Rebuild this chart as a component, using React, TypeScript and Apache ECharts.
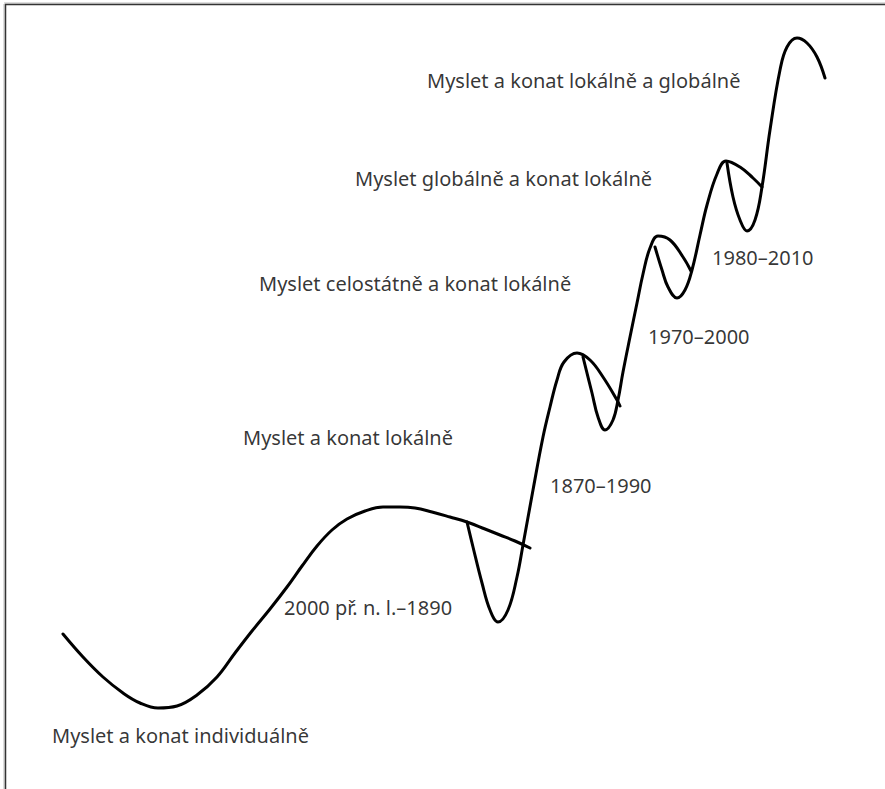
import React, { useEffect, useRef } from "react";
import * as echarts from "echarts";

// Curves: [x, level] pairs (level grows downwards on the page scale)
const curve1: number[][] = [
  [63, 634], [83, 657], [103, 677], [123, 693], [140, 703], [158, 708], [177, 706],
  [197, 695], [217, 677], [235, 653], [252, 631], [270, 609], [287, 587], [302, 566],
  [317, 546], [332, 530], [347, 519], [365, 511], [383, 507], [400, 507], [415, 508],
  [432, 512], [450, 517], [467, 522], [485, 529], [500, 535], [515, 541], [530, 548],
];
const curve2: number[][] = [
  [467, 522], [473, 547], [482, 583], [490, 610], [498, 622], [508, 610], [517, 577],
  [523, 545], [533, 490], [543, 437], [550, 407], [557, 380], [564, 362], [577, 353],
  [590, 360], [603, 377], [617, 400], [620, 406],
];
const curve3: number[][] = [
  [583, 357], [592, 393], [598, 417], [605, 430], [613, 420], [618, 400], [623, 372],
  [630, 337], [637, 303], [643, 274], [650, 248], [658, 236], [670, 240], [683, 257],
  [691, 271],
];
const curve4: number[][] = [
  [655, 247], [662, 270], [668, 287], [677, 298], [685, 290], [692, 270], [700, 235],
  [707, 205], [717, 174], [726, 161], [740, 167], [753, 178], [762, 187],
];
const curve5: number[][] = [
  [727, 163], [733, 197], [740, 220], [747, 231], [755, 220], [762, 187], [770, 130],
  [780, 70], [787, 47], [797, 38], [807, 43], [817, 57], [825, 78],
];

const labelTexts: string[] = [
  "Myslet a konat lokálně a globálně",
  "Myslet globálně a konat lokálně",
  "Myslet celostátně a konat lokálně",
  "Myslet a konat lokálně",
  "2000 př. n. l.–1890",
  "Myslet a konat individuálně",
  "1870–1990",
  "1970–2000",
  "1980–2010",
];
const labelPos: number[][] = [
  [427, 80], [355, 178], [259, 283], [243, 437], [284, 607], [52, 735],
  [550, 485], [648, 336], [712, 257],
];

export default function App() {
  const ref = useRef<HTMLDivElement>(null);
  useEffect(() => {
    if (!ref.current) return;
    const chart = echarts.init(ref.current, undefined, { renderer: "svg" });
    const curves = [curve1, curve2, curve3, curve4, curve5];
    const lineSeries = curves.map((c, i) => ({
      type: "line",
      name: "c" + i,
      data: c,
      smooth: 0.4,
      showSymbol: false,
      symbol: "none",
      lineStyle: { color: "#000", width: 3, cap: "round", join: "round" },
      z: 3,
    }));
    chart.setOption({
      animation: false,
      backgroundColor: "#fff",
      grid: { left: 0, right: 0, top: 0, bottom: 0 },
      xAxis: { type: "value", min: 0, max: 885, show: false },
      yAxis: { type: "value", min: 0, max: 789, inverse: true, show: false },
      series: [
        ...lineSeries,
        {
          type: "scatter",
          symbolSize: 0,
          data: labelTexts.map((t, i) => ({ name: t, value: labelPos[i] })),
          label: {
            show: true,
            position: "right",
            distance: 0,
            formatter: "{b}",
            color: "#000",
            fontFamily: "Noto Sans",
            fontSize: 20,
          },
          emphasis: { disabled: true },
          z: 4,
        },
      ],
      graphic: [
        { type: "line", shape: { x1: 4, y1: 4, x2: 4, y2: 789 }, style: { stroke: "#bbb", lineWidth: 1 } },
        { type: "line", shape: { x1: 4, y1: 3, x2: 885, y2: 3 }, style: { stroke: "#bbb", lineWidth: 1 } },
        { type: "line", shape: { x1: 5.5, y1: 4, x2: 5.5, y2: 789 }, style: { stroke: "#333", lineWidth: 1.5 } },
        { type: "line", shape: { x1: 5, y1: 4.5, x2: 885, y2: 4.5 }, style: { stroke: "#333", lineWidth: 1.5 } },
      ],
    });
    return () => chart.dispose();
  }, []);
  return (
    <div
      ref={ref}
      style={{ position: "fixed", left: 0, top: 0, width: 885, height: 789, background: "#fff" }}
    />
  );
}
